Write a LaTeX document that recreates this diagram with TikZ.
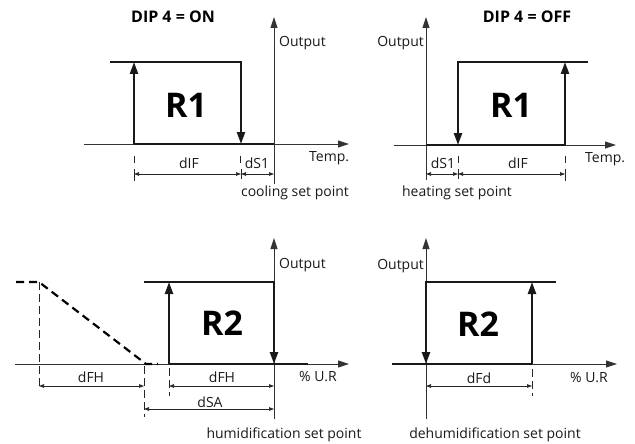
\documentclass[tikz,border=0pt]{standalone}
\usepackage{fontspec}
\setmainfont{Open Sans}
\usetikzlibrary{arrows.meta}
\begin{document}
\begin{tikzpicture}[x=1pt,y=-1pt,
  axisline/.style={line width=0.9pt, draw=black!80, -{Triangle[length=11pt,width=7pt]}},
  relay/.style={line width=2.4pt, draw=black!90, line join=miter},
  relayarrow/.style={relay, -{Triangle[length=12pt,width=8pt]}},
  dimline/.style={line width=0.7pt, draw=black!85, {Triangle[length=5pt,width=3.5pt]}-{Triangle[length=5pt,width=3.5pt]}},
  tick/.style={line width=0.7pt, draw=black!85},
  dtick/.style={line width=0.7pt, draw=black!85, dash pattern=on 8pt off 4pt},
  lbl/.style={font=\fontsize{14}{16}\selectfont, inner sep=0pt, text=black!90},
  title/.style={font=\fontsize{16}{18}\selectfont\bfseries, inner sep=0pt},
  big/.style={font=\fontsize{34}{38}\selectfont\bfseries, inner sep=0pt}
]
\useasboundingbox (0,0) rectangle (635,444);

% ===== Top-left panel =====
\node[title] (t1) at (173,17) {DIP 4 = ON};
\coordinate (a1b) at (84,144);
\coordinate (a1e) at (349,144);
\coordinate (v1b) at (274,184);
\coordinate (v1e) at (274,17);
\draw[axisline] (a1b) -- (a1e);
\draw[axisline] (v1b) -- (v1e);
\node[lbl, anchor=west] (o1) at (279,43) {Output};
\node[lbl, anchor=west] (tp1) at (309,158) {Temp.};
\coordinate (r1a) at (110,62);
\coordinate (r1b) at (241,62);
\coordinate (r1c) at (241,144);
\coordinate (r1d) at (134,144);
\coordinate (r1e) at (134,62);
\coordinate (r1f) at (274,144);
\draw[relay] (r1d) -- (r1f);
\draw[relayarrow] (r1a) -- (r1b) -- (r1c);
\draw[relayarrow] (r1d) -- (r1e);
\node[big] (R1a) at (186,105) {R1};
\coordinate (k1a) at (134,156); \coordinate (k1b) at (134,163);
\coordinate (k1c) at (240,156); \coordinate (k1d) at (240,163);
\draw[tick] (k1a) -- (k1b);
\draw[tick] (k1c) -- (k1d);
\coordinate (d1a) at (134,174); \coordinate (d1b) at (241,174); \coordinate (d1c) at (274,174);
\draw[dimline] (d1a) -- (d1b);
\draw[dimline] (d1b) -- (d1c);
\coordinate (e1a) at (134,169); \coordinate (e1b) at (134,181);
\coordinate (e1c) at (241,169); \coordinate (e1d) at (241,179);
\draw[tick] (e1a) -- (e1b);
\draw[tick] (e1c) -- (e1d);
\node[lbl] (dif1) at (189,163) {dIF};
\node[lbl] (ds1) at (257,163) {dS1};
\node[lbl] (csp) at (295,193) {cooling set point};

% ===== Top-right panel =====
\node[title] (t2) at (527,17) {DIP 4 = OFF};
\coordinate (a2b) at (394,145);
\coordinate (a2e) at (616,145);
\coordinate (v2b) at (426,180);
\coordinate (v2e) at (426,17);
\draw[axisline] (a2b) -- (a2e);
\draw[axisline] (v2b) -- (v2e);
\node[lbl, anchor=east] (o2) at (424,43) {Output};
\node[lbl, anchor=west] (tp2) at (585,159) {Temp.};
\coordinate (r2a) at (588,62);
\coordinate (r2b) at (458,62);
\coordinate (r2c) at (458,145);
\coordinate (r2d) at (565,145);
\coordinate (r2e) at (565,62);
\coordinate (r2f) at (426,145);
\draw[relay] (r2f) -- (r2d);
\draw[relayarrow] (r2a) -- (r2b) -- (r2c);
\draw[relayarrow] (r2d) -- (r2e);
\node[big] (R1b) at (511,105) {R1};
\coordinate (k2a) at (458,156); \coordinate (k2b) at (458,163);
\coordinate (k2c) at (565,156); \coordinate (k2d) at (565,163);
\draw[tick] (k2a) -- (k2b);
\draw[tick] (k2c) -- (k2d);
\coordinate (d2a) at (426,174); \coordinate (d2b) at (458,174); \coordinate (d2c) at (565,174);
\draw[dimline] (d2a) -- (d2b);
\draw[dimline] (d2b) -- (d2c);
\coordinate (e2a) at (458,169); \coordinate (e2b) at (458,179);
\coordinate (e2c) at (565,169); \coordinate (e2d) at (565,181);
\draw[tick] (e2a) -- (e2b);
\draw[tick] (e2c) -- (e2d);
\node[lbl] (ds2) at (443,163) {dS1};
\node[lbl] (dif2) at (518,163) {dIF};
\node[lbl] (hsp) at (457,193) {heating set point};

% ===== Bottom-left panel =====
\coordinate (a3b) at (15,364);
\coordinate (a3e) at (349,364);
\coordinate (v3b) at (274,419);
\coordinate (v3e) at (274,238);
\draw[axisline] (a3b) -- (a3e);
\draw[axisline] (v3b) -- (v3e);
\node[lbl, anchor=west] (o3) at (279,265) {Output};
\node[lbl, anchor=west] (ur3) at (299,377) {\% U.R};
\coordinate (r3a) at (144,282);
\coordinate (r3b) at (274,282);
\coordinate (r3c) at (274,364);
\coordinate (r3d) at (169,364);
\coordinate (r3e) at (169,282);
\coordinate (r3f) at (308,364);
\draw[relay] (r3d) -- (r3f);
\draw[relayarrow] (r3a) -- (r3b) -- (r3c);
\draw[relayarrow] (r3d) -- (r3e);
\node[big] (R2a) at (222,323) {R2};
\coordinate (s3a) at (16,282);
\coordinate (s3b) at (39,282);
\coordinate (s3c) at (146,364);
\coordinate (s3d) at (158,364);
\draw[line width=2.2pt, dash pattern=on 8pt off 5pt] (s3a) -- (s3b) -- (s3c) -- (s3d);
\coordinate (g3a) at (39,282); \coordinate (g3b) at (39,390);
\coordinate (g3c) at (144,366); \coordinate (g3d) at (144,417);
\coordinate (g3e) at (169,368); \coordinate (g3f) at (169,396);
\draw[dtick] (g3a) -- (g3b);
\draw[dtick] (g3c) -- (g3d);
\draw[dtick] (g3e) -- (g3f);
\coordinate (d3a) at (39,386); \coordinate (d3b) at (144,386);
\coordinate (d3c) at (169,386); \coordinate (d3d) at (274,386);
\coordinate (d3e) at (144,409); \coordinate (d3f) at (274,409);
\draw[dimline] (d3a) -- (d3b);
\draw[dimline] (d3c) -- (d3d);
\draw[dimline] (d3e) -- (d3f);
\node[lbl] (dfh1) at (91,377) {dFH};
\node[lbl] (dfh2) at (222,377) {dFH};
\node[lbl] (dsa) at (210,402) {dSA};
\node[lbl] (husp) at (284,435) {humidification set point};

% ===== Bottom-right panel =====
\coordinate (a4b) at (392,364);
\coordinate (a4e) at (617,364);
\coordinate (v4b) at (426,419);
\coordinate (v4e) at (426,238);
\draw[axisline] (a4b) -- (a4e);
\draw[axisline] (v4b) -- (v4e);
\node[lbl, anchor=east] (o4) at (424,266) {Output};
\node[lbl, anchor=west] (ur4) at (570,378) {\% U.R};
\coordinate (r4a) at (556,282);
\coordinate (r4b) at (426,282);
\coordinate (r4c) at (426,364);
\coordinate (r4d) at (532,364);
\coordinate (r4e) at (532,282);
\coordinate (r4f) at (392,364);
\draw[relay] (r4f) -- (r4d);
\draw[relayarrow] (r4a) -- (r4b) -- (r4c);
\draw[relayarrow] (r4d) -- (r4e);
\node[big] (R2b) at (478,324) {R2};
\coordinate (g4a) at (532,369); \coordinate (g4b) at (532,396);
\draw[dtick] (g4a) -- (g4b);
\coordinate (d4a) at (426,386); \coordinate (d4b) at (532,386);
\draw[dimline] (d4a) -- (d4b);
\node[lbl] (dfd) at (479,378) {dFd};
\node[lbl] (desp) at (495,435) {dehumidification set point};
\end{tikzpicture}
\end{document}
